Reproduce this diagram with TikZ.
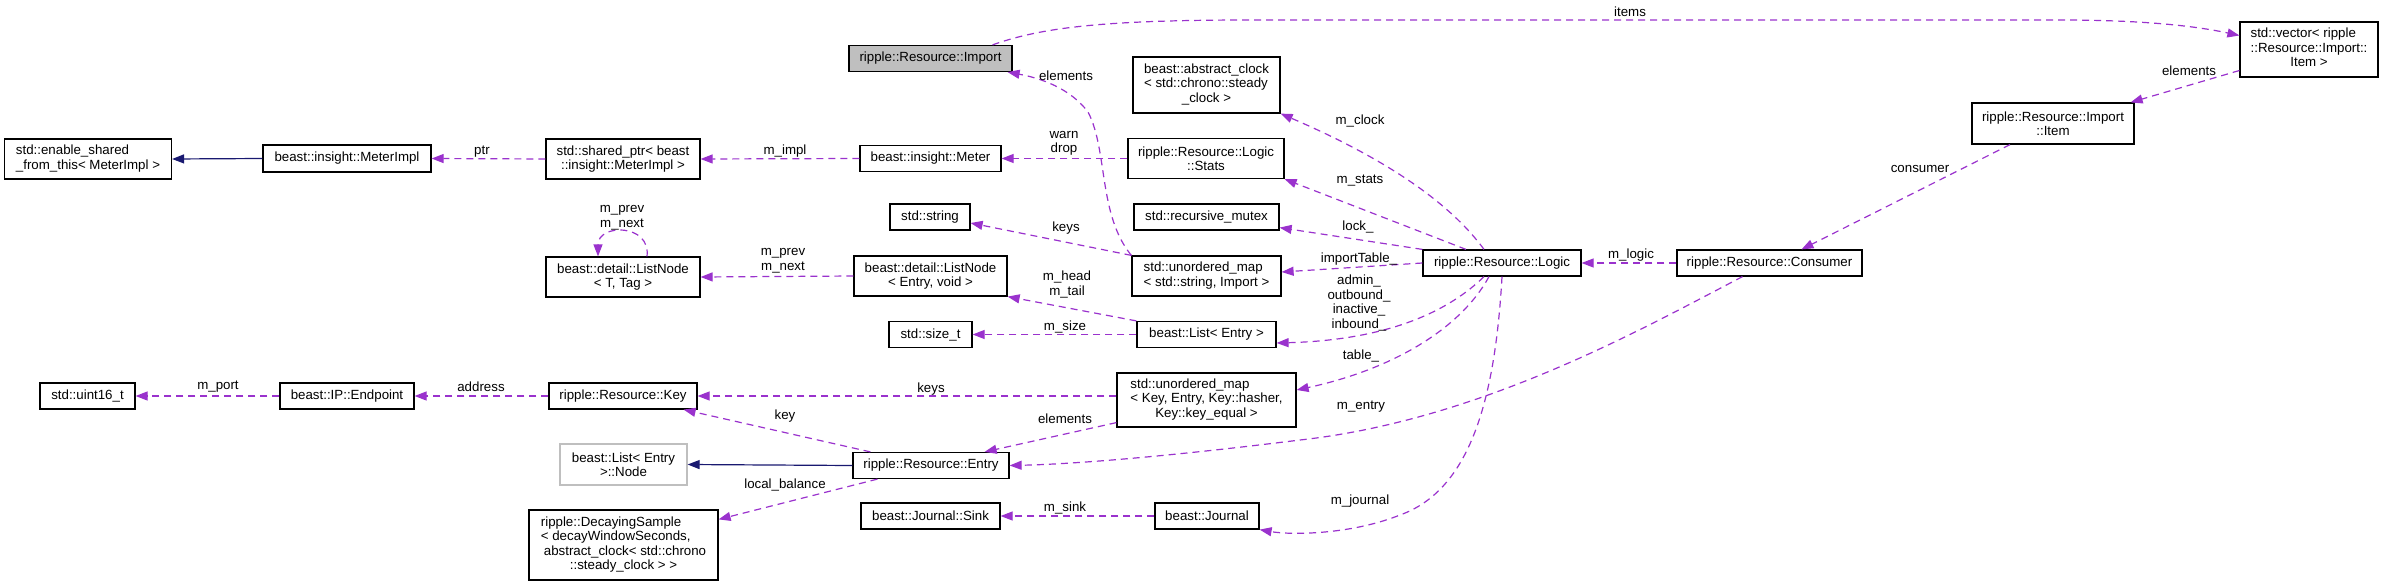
\documentclass[tikz,border=0pt]{standalone}
\usepackage{fontspec}
\setmainfont{Liberation Sans}
\usetikzlibrary{arrows.meta,calc}
\definecolor{edgepurple}{HTML}{9A32CD}
\definecolor{inhnavy}{HTML}{191970}
\definecolor{grayseventyfive}{HTML}{BFBFBF}
\newcommand{\LC}[2]{\begin{tabular}{@{}l@{}}#1\\\multicolumn{1}{@{}c@{}}{#2}\end{tabular}}
\begin{document}
\begin{tikzpicture}[x=1pt,y=-1pt,
  every node/.style={font=\fontsize{13.3}{14.5}\selectfont},
  cls/.style={draw=black, line width=1.2pt, fill=white, inner sep=2pt},
  bx/.style 2 args={cls, minimum width=#1, minimum height=#2},
  mem/.style={draw=edgepurple, line width=1.2pt, dash pattern=on 7pt off 5pt, -{Triangle[length=12pt,width=9pt]}},
  inh/.style={draw=inhnavy, line width=1.2pt, -{Triangle[length=12pt,width=9pt]}},
  lbl/.style={inner sep=0pt, align=center}]
\useasboundingbox (0,0) rectangle (2384,586);

% nodes
\node[bx={167pt}{40pt}] (esft) at (88,159) {\LC{std::enable\_shared}{\_from\_this< MeterImpl >}};
\node[bx={168pt}{27pt}] (mimpl) at (347,158.5) {beast::insight::MeterImpl};
\node[bx={154pt}{40pt}, align=center] (sptr) at (623,159) {std::shared\_ptr< beast\\::insight::MeterImpl >};
\node[bx={141pt}{26pt}] (meter) at (930.5,158.5) {beast::insight::Meter};
\node[bx={156pt}{40pt}, align=center] (stats) at (1206,158.5) {ripple::Resource::Logic\\::Stats};
\node[bx={147pt}{56pt}] (clock) at (1206.5,85) {\LC{beast::abstract\_clock\\< std::chrono::steady}{\_clock >}};
\node[bx={163pt}{26pt}, fill=grayseventyfive] (import) at (930.5,58.5) {ripple::Resource::Import};
\node[bx={138pt}{55pt}] (vector) at (2309,49.5) {\LC{std::vector< ripple\\::Resource::Import::}{Item >}};
\node[bx={162pt}{41pt}, align=center] (item) at (2053,123.5) {ripple::Resource::Import\\::Item};
\node[bx={154pt}{40pt}, align=center] (lntt) at (623,277) {beast::detail::ListNode\\< T, Tag >};
\node[bx={153pt}{40pt}, align=center] (lnev) at (930.5,276) {beast::detail::ListNode\\< Entry, void >};
\node[bx={80pt}{26pt}] (string) at (930,217) {std::string};
\node[bx={145pt}{26pt}] (mutex) at (1206.5,217) {std::recursive\_mutex};
\node[bx={149pt}{40pt}] (umapsi) at (1206.5,276) {\LC{std::unordered\_map}{< std::string, Import >}};
\node[bx={158pt}{26pt}] (logic) at (1502,263) {ripple::Resource::Logic};
\node[bx={185pt}{26pt}] (consumer) at (1769.5,263) {ripple::Resource::Consumer};
\node[bx={83pt}{26pt}] (sizet) at (930.5,334.5) {std::size\_t};
\node[bx={139pt}{26pt}] (list) at (1206.5,334.5) {beast::List< Entry >};
\node[bx={95pt}{26pt}] (uint) at (87.5,396) {std::uint16\_t};
\node[bx={134pt}{26pt}] (endpoint) at (347,396) {beast::IP::Endpoint};
\node[bx={148pt}{26pt}] (key) at (623,396) {ripple::Resource::Key};
\node[bx={179pt}{54pt}] (umapkey) at (1206.5,400) {\LC{std::unordered\_map\\< Key, Entry, Key::hasher,}{Key::key\_equal >}};
\node[bx={127pt}{41pt}, draw=grayseventyfive, align=center] (lnode) at (623.5,464.5) {beast::List< Entry\\>::Node};
\node[bx={156pt}{26pt}] (entry) at (931,465.5) {ripple::Resource::Entry};
\node[bx={189pt}{70pt}] (decay) at (623.5,545) {\begin{tabular}{@{}l@{}}ripple::DecayingSample\\< decayWindowSeconds,\\\hspace{3pt}abstract\_clock< std::chrono\\\multicolumn{1}{@{}c@{}}{::steady\_clock > >}\end{tabular}};
\node[bx={139pt}{26pt}] (sink) at (930.5,516) {beast::Journal::Sink};
\node[bx={104pt}{26pt}] (journal) at (1207,516) {beast::Journal};

% inheritance
\draw[inh] (mimpl.west) -- (esft.east);
\draw[inh] (entry.west) -- (lnode.east);

% members
\draw[mem] (sptr.west) -- (mimpl.east);
\draw[mem] (meter.west) -- (sptr.east);
\draw[mem] (stats.west) -- (meter.east);
\draw[mem] ([xshift=24pt]lntt.north) .. controls +(4,-33) and +(0,-33) .. ([xshift=-25pt]lntt.north);
\draw[mem] (lnev.west) -- (lntt.east);
\draw[mem] (umapsi.north west) -- ([yshift=-6pt]string.east);
\draw[mem] (umapsi.north west) .. controls (1098,215) and (1108,150) .. (1088,112) .. controls (1070,88) and (1040,78) .. ([xshift=-5pt]import.south east);
\draw[mem] ([xshift=-18pt]logic.north) .. controls (1455,210) and (1400,165) .. (clock.south east);
\draw[mem] ([xshift=-36pt]logic.north) -- (stats.south east);
\draw[mem] (logic.north west) -- ([yshift=3pt]mutex.south east);
\draw[mem] (logic.west) -- ([yshift=4pt]umapsi.east);
\draw[mem] ([xshift=-18pt]logic.south) .. controls (1450,310) and (1390,340) .. ([yshift=-8.5pt]list.east);
\draw[mem] ([xshift=-13pt]logic.south) .. controls (1460,330) and (1390,370) .. ([yshift=10pt]umapkey.east);
\draw[mem] (logic.south) .. controls (1495,400) and (1470,490) .. (1400,515) .. controls (1350,535) and (1290,535) .. (journal.south east);
\draw[mem] (list.north west) -- (lnev.south east);
\draw[mem] (list.west) -- (sizet.east);
\draw[mem] (umapkey.west |- key.east) -- (key.east);
\draw[mem] ([yshift=5pt]umapkey.south west) -- ([xshift=-25pt]entry.north east);
\draw[mem] ([xshift=18pt]entry.north west) -- ([xshift=-14pt]key.south east);
\draw[mem] ([xshift=25pt]entry.south west) -- ([yshift=-10pt]decay.north east);
\draw[mem] (journal.west) -- (sink.east);
\draw[mem] (consumer.west) -- (logic.east);
\draw[mem] ([xshift=-27pt]consumer.south) .. controls (1640,330) and (1480,420) .. (1300,440) .. controls (1180,455) and (1080,464) .. (entry.east);
\draw[mem] ([xshift=-43pt]item.south) -- ([xshift=32pt]consumer.north);
\draw[mem] ([yshift=-21pt]vector.west) -- ([xshift=-4pt]item.north east);
\draw[mem] ([xshift=62pt]import.north) .. controls (1040,28) and (1100,20) .. (1250,20) -- (2060,20) .. controls (2150,20) and (2200,27) .. ([yshift=14pt]vector.west);
\draw[mem] (endpoint.west) -- (uint.east);
\draw[mem] (key.west) -- (endpoint.east);

% labels
\node[lbl] (lptr) at (482,152) {ptr};
\node[lbl] (lmimpl) at (785,151) {m\_impl};
\node[lbl] (lwarn) at (1064,143.5) {warn\\drop};
\node[lbl] (lself) at (622,217.5) {m\_prev\\m\_next};
\node[lbl] (lprev) at (783,260.5) {m\_prev\\m\_next};
\node[lbl] (lkeys) at (1066,228) {keys};
\node[lbl] (lelem) at (1066,76) {elements};
\node[lbl] (lclock) at (1360,121) {m\_clock};
\node[lbl] (lstats) at (1360,181) {m\_stats};
\node[lbl] (llock) at (1358,227) {lock\_};
\node[lbl] (limp) at (1359,259) {importTable\_};
\node[lbl] (ladmin) at (1359,303) {admin\_\\outbound\_\\inactive\_\\inbound\_};
\node[lbl] (lhead) at (1067,284.5) {m\_head\\m\_tail};
\node[lbl] (lsize) at (1065,327) {m\_size};
\node[lbl] (ltable) at (1361,356) {table\_};
\node[lbl] (lkeys2) at (931,389) {keys};
\node[lbl] (lelem2) at (1065,419) {elements};
\node[lbl] (lkey) at (785,416) {key};
\node[lbl] (lbal) at (785,485) {local\_balance};
\node[lbl] (lentry) at (1361,407) {m\_entry};
\node[lbl] (lsink) at (1065,508) {m\_sink};
\node[lbl] (ljour) at (1360,501) {m\_journal};
\node[lbl] (llogic) at (1631,255) {m\_logic};
\node[lbl] (lcons) at (1920,169) {consumer};
\node[lbl] (lelem3) at (2189,71) {elements};
\node[lbl] (litems) at (1630,12) {items};
\node[lbl] (lport) at (218,387) {m\_port};
\node[lbl] (laddr) at (481,387) {address};
\end{tikzpicture}
\end{document}
